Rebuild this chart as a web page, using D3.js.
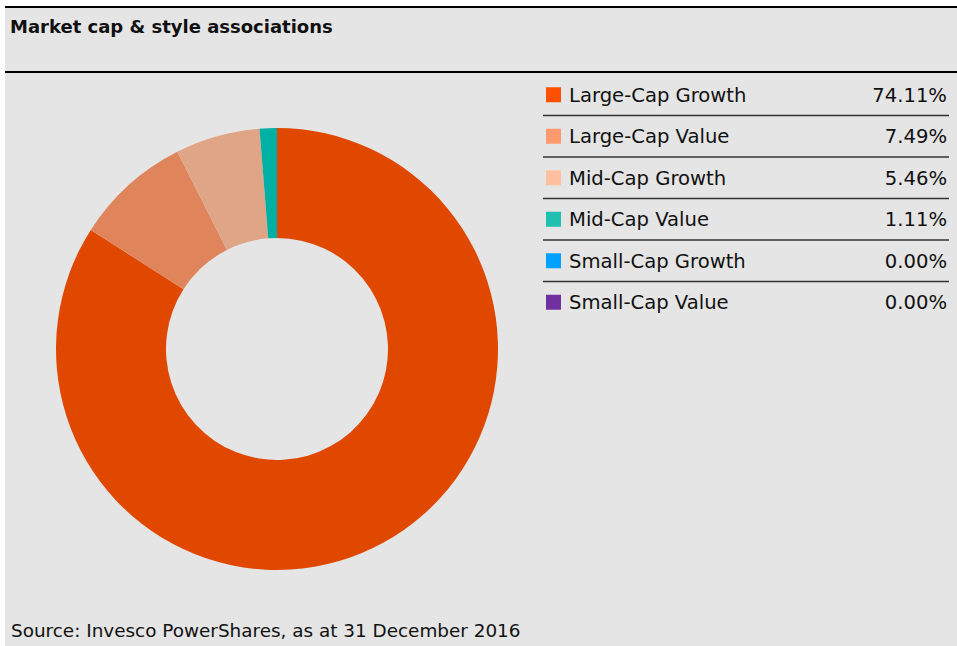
<!DOCTYPE html>
<html>
<head>
<meta charset="utf-8">
<script src="https://cdn.jsdelivr.net/npm/d3@7"></script>
<style>
  body { margin: 0; background: #fff; }
  svg { display: block; }
  text { font-family: "DejaVu Sans", sans-serif; fill: #111; }
</style>
</head>
<body>
<div id="chart"></div>
<script>
const categories = ["Large-Cap Growth", "Large-Cap Value", "Mid-Cap Growth", "Mid-Cap Value", "Small-Cap Growth", "Small-Cap Value"];
const values = [74.11, 7.49, 5.46, 1.11, 0.00, 0.00];
const sliceColours = ["#e04800", "#e0845c", "#e0a487", "#00b0a4", "#00a0ff", "#7030a0"];
const swatchColours = ["#ff5000", "#ff9a6e", "#ffc0a0", "#1fc0b0", "#00a0ff", "#7030a0"];
const titleText = "Market cap & style associations";
const sourceText = "Source: Invesco PowerShares, as at 31 December 2016";

const width = 957, height = 646;

const svg = d3.select("#chart")
  .append("svg")
  .attr("width", width)
  .attr("height", height);

// panel background
svg.append("rect")
  .attr("x", 5).attr("y", 6)
  .attr("width", width - 5).attr("height", height - 6)
  .attr("fill", "#e5e5e5");

// header rules
svg.append("line")
  .attr("x1", 5).attr("x2", width).attr("y1", 7).attr("y2", 7)
  .attr("stroke", "#000").attr("stroke-width", 2);
svg.append("line")
  .attr("x1", 5).attr("x2", width).attr("y1", 72).attr("y2", 72)
  .attr("stroke", "#000").attr("stroke-width", 2);

svg.append("text")
  .text(titleText)
  .attr("x", 10).attr("y", 33)
  .attr("font-size", 18)
  .attr("font-weight", "bold");

// Donut
const pie = d3.pie().sort(null).value(d => d.value);
const arc = d3.arc().innerRadius(111).outerRadius(221);
const data = categories.map((c, i) => ({ name: c, value: values[i], i }));
const colour = d3.scaleOrdinal().domain(categories).range(sliceColours);

svg.append("g")
  .attr("transform", "translate(277,349)")
  .selectAll("path")
  .data(pie(data).filter(d => d.data.value > 0))
  .join("path")
    .attr("d", arc)
    .attr("fill", d => colour(d.data.name));

// Legend table
const rowY = d3.scaleBand()
  .domain(categories)
  .range([74, 323]);
const swatch = d3.scaleOrdinal().domain(categories).range(swatchColours);
const fmt = d3.format(".2f");

const rows = svg.append("g").selectAll("g.row")
  .data(data)
  .join("g")
    .attr("class", "row")
    .attr("transform", d => `translate(0, ${rowY(d.name)})`);

const bw = rowY.bandwidth();

rows.append("rect")
  .attr("x", 546).attr("y", bw / 2 - 7.5)
  .attr("width", 15).attr("height", 15)
  .attr("fill", d => swatch(d.name));

rows.append("text")
  .text(d => d.name)
  .attr("x", 569).attr("y", bw / 2 + 7)
  .attr("font-size", 19.6);

rows.append("text")
  .text(d => `${fmt(d.value)}%`)
  .attr("x", 947).attr("y", bw / 2 + 7)
  .attr("text-anchor", "end")
  .attr("font-size", 19.6);

rows.filter((d, i) => i < categories.length - 1)
  .append("line")
  .attr("x1", 543).attr("x2", 949)
  .attr("y1", bw).attr("y2", bw)
  .attr("stroke", "#333").attr("stroke-width", 1.5);

svg.append("text")
  .text(sourceText)
  .attr("x", 11).attr("y", 637)
  .attr("font-size", 18.4);
</script>
</body>
</html>
